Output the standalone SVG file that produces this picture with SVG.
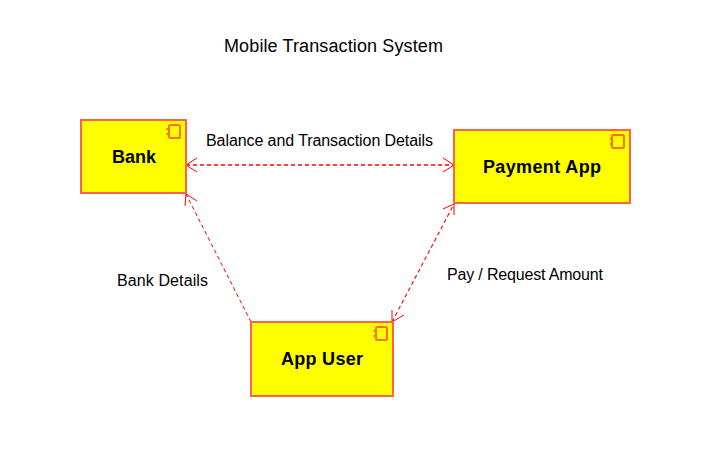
<svg xmlns="http://www.w3.org/2000/svg" width="727" height="454" viewBox="0 0 727 454">
<style>
text{font-family:"Liberation Sans",Arial,sans-serif;fill:#000}
.t{font-size:16px}
.h{font-size:18px}
.n{font-size:18px;font-weight:bold;text-anchor:middle}
.b{fill:#ffff00;stroke:#ff6347;stroke-width:2}
.i{fill:none;stroke:#ff7000;stroke-width:2}
.c{fill:none;stroke:#ff0000;stroke-width:1.300;stroke-dasharray:4 3}
.a{fill:none;stroke:#ff0000;stroke-width:1}
</style>
<rect width="727" height="454" fill="#fff"/>
<text class="h" x="224" y="52" textLength="219">Mobile Transaction System</text>
<g id="connectors">
<line class="c" x1="186" y1="165" x2="454" y2="165"/>
<path class="a" d="M197 158L186 165L197 172M443 158L454 165L443 172"/>
<line class="c" style="stroke-width:1" x1="251" y1="322" x2="186" y2="194"/>
<path class="a" d="M185 206L186 194L197 201"/>
<line class="c" style="stroke-width:1.100" x1="392" y1="322" x2="454" y2="204"/>
<path class="a" d="M392 310L392 322L404 315M454 215L454 204L443 209"/>
</g>
<text class="t" x="206" y="146" textLength="227">Balance and Transaction Details</text>
<text class="t" x="117" y="286" textLength="91">Bank Details</text>
<text class="t" x="447" y="280" textLength="156">Pay / Request Amount</text>
<g id="bank">
<rect class="b" x="81" y="120" width="105" height="73"/>
<rect class="i" x="169" y="125" width="11" height="13" rx="1.500"/>
<path class="i" d="M167.500 128v2M167.500 133v2"/>
<text class="n" x="134" y="163" textLength="44">Bank</text>
</g>
<g id="payment-app">
<rect class="b" x="454" y="130" width="176" height="73"/>
<rect class="i" x="612" y="135" width="12" height="13" rx="1.500"/>
<path class="i" d="M611 138v2M611 143v2"/>
<text class="n" x="542" y="173" textLength="118">Payment App</text>
</g>
<g id="app-user">
<rect class="b" x="251" y="322" width="142" height="74"/>
<rect class="i" x="376" y="327" width="11" height="13" rx="1.500"/>
<path class="i" d="M374.500 330v2M374.500 335v2"/>
<text class="n" x="322" y="365" textLength="82">App User</text>
</g>
</svg>
